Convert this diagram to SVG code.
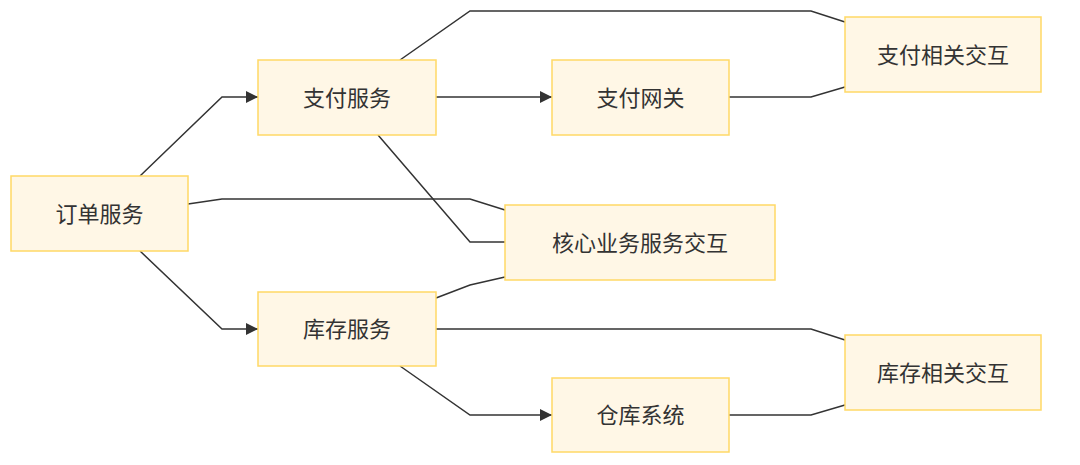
<svg xmlns="http://www.w3.org/2000/svg" width="1080" height="465" viewBox="0 0 1080 465">
<defs>
<style>
.node rect{fill:#fff7e6;stroke:#ffd966;stroke-width:1.5}
.node text{font-family:"Noto Sans CJK SC","Liberation Sans",sans-serif;font-size:22px;fill:#333;text-anchor:middle;dominant-baseline:central}
.edge{fill:none;stroke:#333;stroke-width:1.5}
</style>
<marker id="arr" viewBox="0 0 10 10" refX="10" refY="5" markerWidth="12" markerHeight="12" markerUnits="userSpaceOnUse" orient="auto">
<path d="M0,0 L10,5 L0,10 z" fill="#333"/>
</marker>
</defs>
<rect width="1080" height="465" fill="#fff"/>
<g id="connectors">
<polyline class="edge" points="140,176 222,97 258,97" marker-end="url(#arr)"/>
<polyline class="edge" points="188,204 222,199 470,199 505,210"/>
<polyline class="edge" points="140,251 222,329 258,329" marker-end="url(#arr)"/>
<polyline class="edge" points="436,97 552,97" marker-end="url(#arr)"/>
<polyline class="edge" points="400,60 470,11 811,11 845,22"/>
<polyline class="edge" points="378,135 470,242 505,242"/>
<polyline class="edge" points="436,298 470,285 505,277"/>
<polyline class="edge" points="436,329 811,329 845,340"/>
<polyline class="edge" points="400,366 470,415 552,415" marker-end="url(#arr)"/>
<polyline class="edge" points="729,97 811,97 845,87"/>
<polyline class="edge" points="729,415 811,415 845,405"/>
</g>
<g id="n-order" class="node"><rect x="11" y="176" width="177" height="75"/><text x="99.5" y="211.5">订单服务</text></g>
<g id="n-pay" class="node"><rect x="258" y="60" width="178" height="75"/><text x="347" y="95.5">支付服务</text></g>
<g id="n-stock" class="node"><rect x="258" y="292" width="178" height="74"/><text x="347" y="327">库存服务</text></g>
<g id="n-gateway" class="node"><rect x="552" y="60" width="177" height="75"/><text x="640.5" y="95.5">支付网关</text></g>
<g id="n-warehouse" class="node"><rect x="552" y="378" width="177" height="74"/><text x="640.5" y="413">仓库系统</text></g>
<g id="n-core" class="node"><rect x="505" y="205" width="270" height="75"/><text x="640" y="240.5">核心业务服务交互</text></g>
<g id="n-payrel" class="node"><rect x="845" y="17" width="196" height="75"/><text x="943" y="52.5">支付相关交互</text></g>
<g id="n-stockrel" class="node"><rect x="845" y="335" width="196" height="75"/><text x="943" y="370.5">库存相关交互</text></g>
</svg>
